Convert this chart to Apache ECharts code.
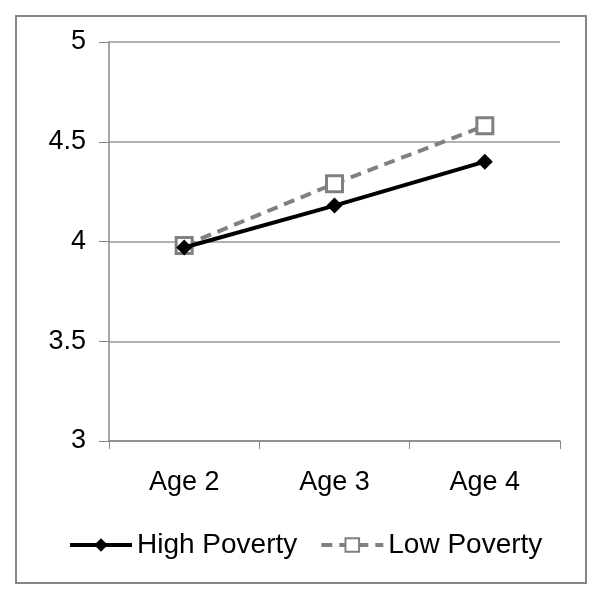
<!DOCTYPE html>
<html>
<head>
<meta charset="utf-8">
<script src="https://cdn.jsdelivr.net/npm/echarts@6/dist/echarts.min.js"></script>
<style>
  html, body { margin: 0; padding: 0; background: #fff; }
  #main { width: 600px; height: 595px; }
</style>
</head>
<body>
<div id="main"></div>
<script>
// data
const categories = ['Age 2', 'Age 3', 'Age 4'];
const highPoverty = [3.97, 4.18, 4.40];
const lowPoverty = [3.98, 4.29, 4.58];
const yTicks = [3, 3.5, 4, 4.5, 5];

const myChart = echarts.init(document.getElementById('main'));
const font = 'Liberation Sans, Arial, sans-serif';

myChart.setOption({
  animation: false,
  backgroundColor: '#fff',
  graphic: [{
    type: 'rect',
    shape: { x: 16, y: 16, width: 570, height: 567 },
    style: { fill: 'none', stroke: '#858585', lineWidth: 2 },
    silent: true
  }],
  grid: { left: 109, right: 40, top: 42, bottom: 154 },
  legend: {
    bottom: 31,
    left: 63,
    itemWidth: 62,
    itemHeight: 17,
    itemGap: 22,
    lineStyle: { width: 4 },
    textStyle: { fontFamily: font, fontSize: 28, color: '#000' },
    data: ['High Poverty', 'Low Poverty']
  },
  xAxis: {
    type: 'category',
    data: categories,
    boundaryGap: true,
    axisLine: { lineStyle: { color: '#888', width: 1.5 } },
    axisTick: { show: true, length: 8, lineStyle: { color: '#888' } },
    axisLabel: { fontFamily: font, fontSize: 27, color: '#000', margin: 28 }
  },
  yAxis: {
    type: 'value',
    min: yTicks[0],
    max: yTicks[yTicks.length - 1],
    interval: 0.5,
    axisLine: { show: true, lineStyle: { color: '#888', width: 1.5 } },
    axisTick: { show: true, length: 10, lineStyle: { color: '#888' } },
    splitLine: { lineStyle: { color: '#999', width: 1.5 } },
    axisLabel: { fontFamily: font, fontSize: 27, color: '#000', margin: 23 }
  },
  series: [
    {
      name: 'High Poverty',
      type: 'line',
      data: highPoverty,
      symbol: 'diamond',
      symbolSize: 16,
      itemStyle: { color: '#000' },
      lineStyle: { color: '#000', width: 4 },
      z: 3
    },
    {
      name: 'Low Poverty',
      type: 'line',
      data: lowPoverty,
      symbol: 'rect',
      symbolSize: 16,
      itemStyle: { color: '#fff', borderColor: '#808080', borderWidth: 3 },
      lineStyle: { color: '#808080', width: 4, type: [11, 7] },
      z: 2
    }
  ]
});
</script>
</body>
</html>
